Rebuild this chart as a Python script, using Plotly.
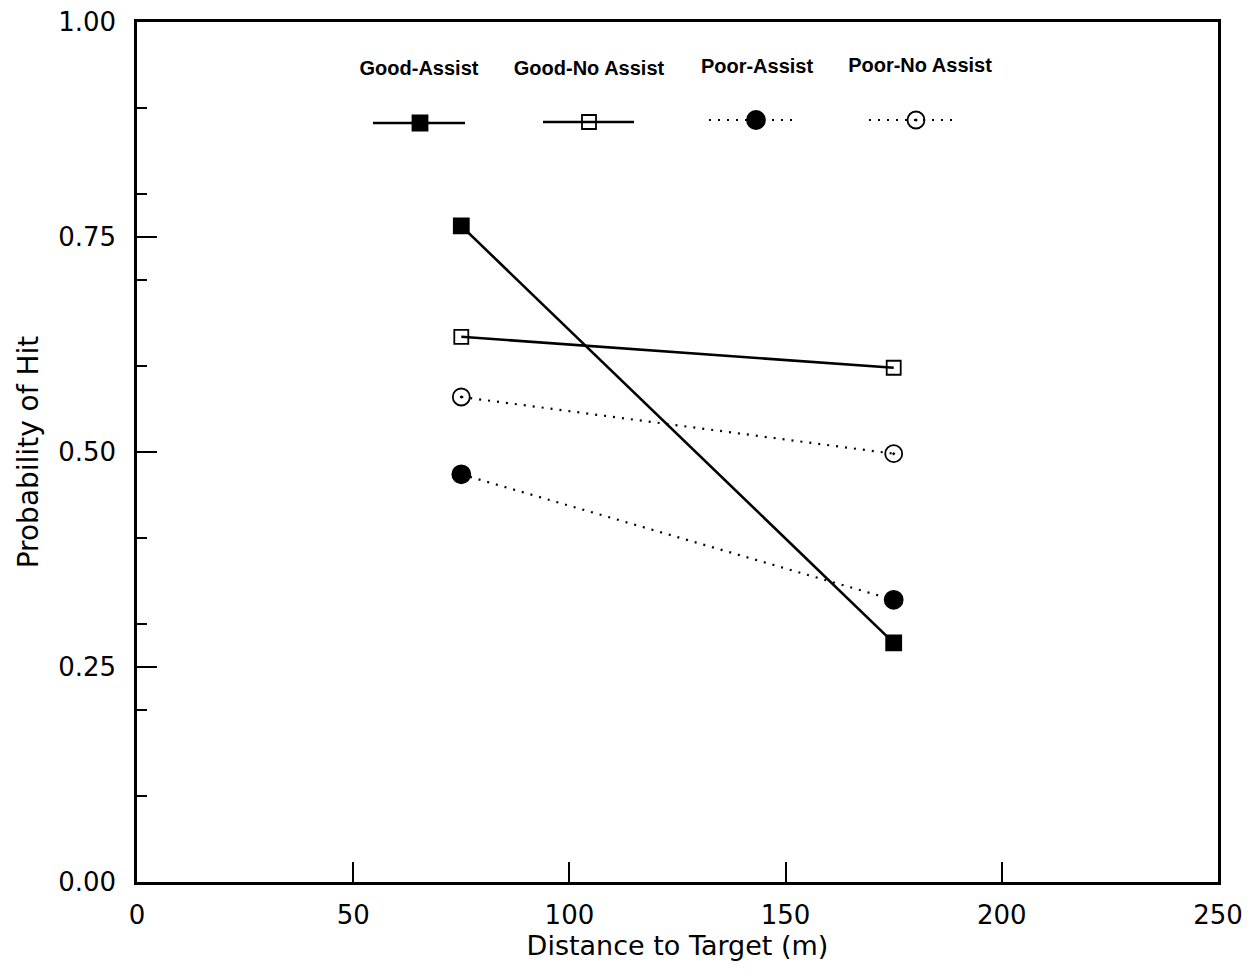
import plotly.graph_objects as go

distance = [75, 175]
good_assist = [0.763, 0.278]
good_no_assist = [0.634, 0.598]
poor_assist = [0.474, 0.328]
poor_no_assist = [0.564, 0.498]

series_names = ["Good-Assist", "Good-No Assist", "Poor-Assist", "Poor-No Assist"]
series_values = [good_assist, good_no_assist, poor_assist, poor_no_assist]
symbols = ["square", "square-open", "circle", "circle-open-dot"]
marker_sizes = [15, 14, 18, 17]
dashes = ["solid", "solid", "2px,7px", "2px,7px"]
line_widths = [2.6, 2.6, 2.2, 2.2]

x_ticks = [0, 50, 100, 150, 200, 250]
y_ticks = [0.0, 0.25, 0.5, 0.75, 1.0]
y_tick_labels = ["0.00", "0.25", "0.50", "0.75", "1.00"]

# legend layout in page-pixel space of the overlay axes
legend_label_x = [419, 589, 757, 920]
legend_label_y = [70, 70, 68, 67]
legend_line_x0 = [373, 543, 709, 869]
legend_line_x1 = [465, 634, 795, 955]
legend_marker_x = [420, 589, 756, 916]
legend_line_y = [123, 122, 120, 120]

# page offset: the browser body has an 8px margin
OFF = 8
PLOT_L, PLOT_R, PLOT_T, PLOT_B = 137, 1218, 22, 882
FIG_W, FIG_H = 1255 - OFF, 973 - OFF

fig = go.Figure()

for name, vals, sym, ms, dash, lw in zip(series_names, series_values, symbols, marker_sizes, dashes, line_widths):
    fig.add_trace(go.Scatter(
        x=distance, y=vals, mode="lines+markers", name=name,
        line=dict(color="black", width=lw, dash=dash),
        marker=dict(symbol=sym, size=ms, color="black", line=dict(color="black", width=1.8)),
        showlegend=False, cliponaxis=False,
    ))

legend_font = dict(family="Liberation Sans, Arial, Helvetica", size=20, color="black", weight="bold")

for i, name in enumerate(series_names):
    fig.add_trace(go.Scatter(
        x=[legend_line_x0[i], legend_line_x1[i]], y=[legend_line_y[i]] * 2,
        mode="lines", line=dict(color="black", width=line_widths[i], dash=dashes[i]),
        xaxis="x2", yaxis="y2", showlegend=False, hoverinfo="skip",
    ))
    fig.add_trace(go.Scatter(
        x=[legend_marker_x[i]], y=[legend_line_y[i]], mode="markers",
        marker=dict(symbol=symbols[i], size=marker_sizes[i], color="black",
                    line=dict(color="black", width=1.8)),
        xaxis="x2", yaxis="y2", showlegend=False, hoverinfo="skip",
    ))
    fig.add_trace(go.Scatter(
        x=[legend_label_x[i]], y=[legend_label_y[i]], mode="text", text=[name],
        textfont=legend_font,
        xaxis="x2", yaxis="y2", showlegend=False, hoverinfo="skip",
    ))

tick_font = dict(family="DejaVu Sans, Liberation Sans, Arial", size=26, color="black")
xtitle_font = dict(family="DejaVu Sans, Liberation Sans, Arial", size=27, color="black")
ytitle_font = dict(family="DejaVu Sans, Liberation Sans, Arial", size=28, color="black")

fig.update_layout(
    width=FIG_W, height=FIG_H,
    margin=dict(l=PLOT_L - OFF, r=FIG_W - (PLOT_R - OFF), t=PLOT_T - OFF, b=FIG_H - (PLOT_B - OFF),
                autoexpand=False),
    paper_bgcolor="white", plot_bgcolor="white",
    xaxis=dict(
        range=[0, 250], tickvals=x_ticks, ticks="inside", ticklen=20, tickwidth=1.5,
        tickcolor="black", showline=True, linecolor="black", linewidth=2.5, mirror=True,
        showgrid=False, zeroline=False, tickfont=tick_font, ticklabelstandoff=8,
        automargin=False,
        title=dict(text="Distance to Target (m)", font=xtitle_font, standoff=7),
    ),
    yaxis=dict(
        range=[-0.0002, 1.0002], tickvals=y_ticks, ticktext=y_tick_labels, ticks="inside",
        ticklen=20, tickwidth=1.5, tickcolor="black", showline=True, linecolor="black",
        linewidth=2.5, mirror=True, showgrid=False, zeroline=False, tickfont=tick_font,
        ticklabelstandoff=13, ticklabeloverflow="allow", automargin=False,
        minor=dict(dtick=0.1, tick0=0, ticks="inside", ticklen=10, tickwidth=1.5,
                   tickcolor="black", showgrid=False),
        title=dict(text="Probability of Hit", font=ytitle_font, standoff=12),
    ),
    xaxis2=dict(domain=[0, 1], range=[PLOT_L, PLOT_R], overlaying="x", visible=False,
                fixedrange=True),
    yaxis2=dict(domain=[0, 1], range=[PLOT_B, PLOT_T], overlaying="y", visible=False,
                fixedrange=True),
)

fig.write_html("out.html")
